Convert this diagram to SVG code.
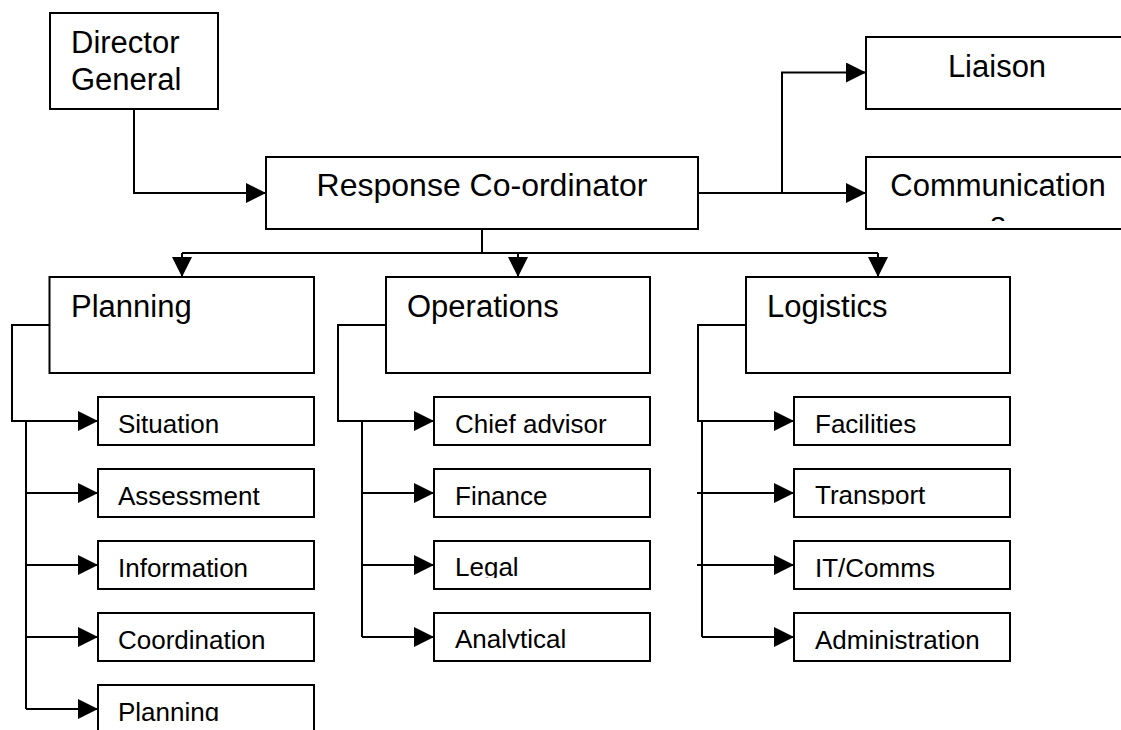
<svg xmlns="http://www.w3.org/2000/svg" width="1121" height="730" viewBox="0 0 1121 730">
<style>
  rect.box { fill: #fff; stroke: #000; stroke-width: 2; }
  .h { font-family: "Liberation Sans", Arial, sans-serif; font-size: 31px; fill: #000; }
  .c { font-family: "Liberation Sans", Arial, sans-serif; font-size: 26px; fill: #000; }
  #connectors path { fill: none; stroke: #000; stroke-width: 2; }
</style>
<defs>
  <marker id="arr" markerUnits="userSpaceOnUse" markerWidth="20" markerHeight="20" viewBox="0 0 20 20" refX="20" refY="10" orient="auto">
    <path d="M0,0 L20,10 L0,20 Z" fill="#000"/>
  </marker>
  <clipPath id="clComm"><rect x="866" y="157" width="260" height="64"/></clipPath>
  <clipPath id="clLegal"><rect x="434" y="541" width="216" height="37"/></clipPath>
  <clipPath id="clAnal"><rect x="434" y="613" width="216" height="35.5"/></clipPath>
  <clipPath id="clPlan2"><rect x="98" y="685" width="216" height="36"/></clipPath>
  <clipPath id="clTrans"><rect x="794" y="469" width="216" height="35.5"/></clipPath>
</defs>
<rect width="1121" height="730" fill="#fff"/>

<g id="connectors">
  <path d="M134,109 V193 H266" marker-end="url(#arr)"/>
  <path d="M698,193 H866" marker-end="url(#arr)"/>
  <path d="M782,193 V72.5 H866" marker-end="url(#arr)"/>
  <path d="M482,229 V253"/>
  <path d="M182,253 H878"/>
  <path d="M182,253 V277" marker-end="url(#arr)"/>
  <path d="M518,253 V277" marker-end="url(#arr)"/>
  <path d="M878,253 V277" marker-end="url(#arr)"/>

  <path d="M49.5,325 H12 V421 H98" marker-end="url(#arr)"/>
  <path d="M26,421 V709"/>
  <path d="M26,493 H98" marker-end="url(#arr)"/>
  <path d="M26,565 H98" marker-end="url(#arr)"/>
  <path d="M26,637 H98" marker-end="url(#arr)"/>
  <path d="M26,709 H98" marker-end="url(#arr)"/>

  <path d="M386,325 H338 V421 H434" marker-end="url(#arr)"/>
  <path d="M362,421 V637"/>
  <path d="M362,493 H434" marker-end="url(#arr)"/>
  <path d="M362,565 H434" marker-end="url(#arr)"/>
  <path d="M362,637 H434" marker-end="url(#arr)"/>

  <path d="M746,325 H698 V421 H794" marker-end="url(#arr)"/>
  <path d="M702,421 V637"/>
  <path d="M697,493 H794" marker-end="url(#arr)"/>
  <path d="M697,565 H794" marker-end="url(#arr)"/>
  <path d="M702,637 H794" marker-end="url(#arr)"/>
</g>

<g id="director-general">
  <rect class="box" x="50" y="13" width="168" height="96"/>
  <text class="h" x="71" y="53">Director</text>
  <text class="h" x="71" y="90">General</text>
</g>
<g id="response-coordinator">
  <rect class="box" x="266" y="157" width="432" height="72"/>
  <text class="h" x="482" y="196" text-anchor="middle" style="font-size:32px">Response Co-ordinator</text>
</g>
<g id="liaison">
  <rect class="box" x="866" y="37" width="270" height="72"/>
  <text class="h" x="997" y="77" text-anchor="middle">Liaison</text>
</g>
<g id="communications">
  <rect class="box" x="866" y="157" width="270" height="72"/>
  <g clip-path="url(#clComm)">
    <text class="h" x="998" y="196" text-anchor="middle">Communication</text>
    <text class="h" x="998" y="234" text-anchor="middle">s</text>
  </g>
</g>

<g id="planning">
  <rect class="box" x="49.5" y="277" width="264.5" height="96"/>
  <text class="h" x="71" y="317">Planning</text>
</g>
<g id="operations">
  <rect class="box" x="386" y="277" width="264" height="96"/>
  <text class="h" x="407" y="317">Operations</text>
</g>
<g id="logistics">
  <rect class="box" x="746" y="277" width="264" height="96"/>
  <text class="h" x="767" y="317">Logistics</text>
</g>

<g id="situation">
  <rect class="box" x="98" y="397" width="216" height="48"/>
  <text class="c" x="118" y="432.5">Situation</text>
</g>
<g id="assessment">
  <rect class="box" x="98" y="469" width="216" height="48"/>
  <text class="c" x="118" y="504.5">Assessment</text>
</g>
<g id="information">
  <rect class="box" x="98" y="541" width="216" height="48"/>
  <text class="c" x="118" y="576.5">Information</text>
</g>
<g id="coordination">
  <rect class="box" x="98" y="613" width="216" height="48"/>
  <text class="c" x="118" y="648.5">Coordination</text>
</g>
<g id="planning-sub">
  <rect class="box" x="98" y="685" width="216" height="48"/>
  <text class="c" x="118" y="720.5" clip-path="url(#clPlan2)">Planning</text>
</g>

<g id="chief-advisor">
  <rect class="box" x="434" y="397" width="216" height="48"/>
  <text class="c" x="455" y="432.5">Chief advisor</text>
</g>
<g id="finance">
  <rect class="box" x="434" y="469" width="216" height="48"/>
  <text class="c" x="455" y="504.5">Finance</text>
</g>
<g id="legal">
  <rect class="box" x="434" y="541" width="216" height="48"/>
  <text class="c" x="455" y="575.5" clip-path="url(#clLegal)">Legal</text>
</g>
<g id="analytical">
  <rect class="box" x="434" y="613" width="216" height="48"/>
  <text class="c" x="455" y="647.5" clip-path="url(#clAnal)">Analytical</text>
</g>

<g id="facilities">
  <rect class="box" x="794" y="397" width="216" height="48"/>
  <text class="c" x="815" y="432.5">Facilities</text>
</g>
<g id="transport">
  <rect class="box" x="794" y="469" width="216" height="48"/>
  <text class="c" x="815" y="503.5" clip-path="url(#clTrans)">Transport</text>
</g>
<g id="it-comms">
  <rect class="box" x="794" y="541" width="216" height="48"/>
  <text class="c" x="815" y="576.5">IT/Comms</text>
</g>
<g id="administration">
  <rect class="box" x="794" y="613" width="216" height="48"/>
  <text class="c" x="815" y="648.5">Administration</text>
</g>
</svg>
